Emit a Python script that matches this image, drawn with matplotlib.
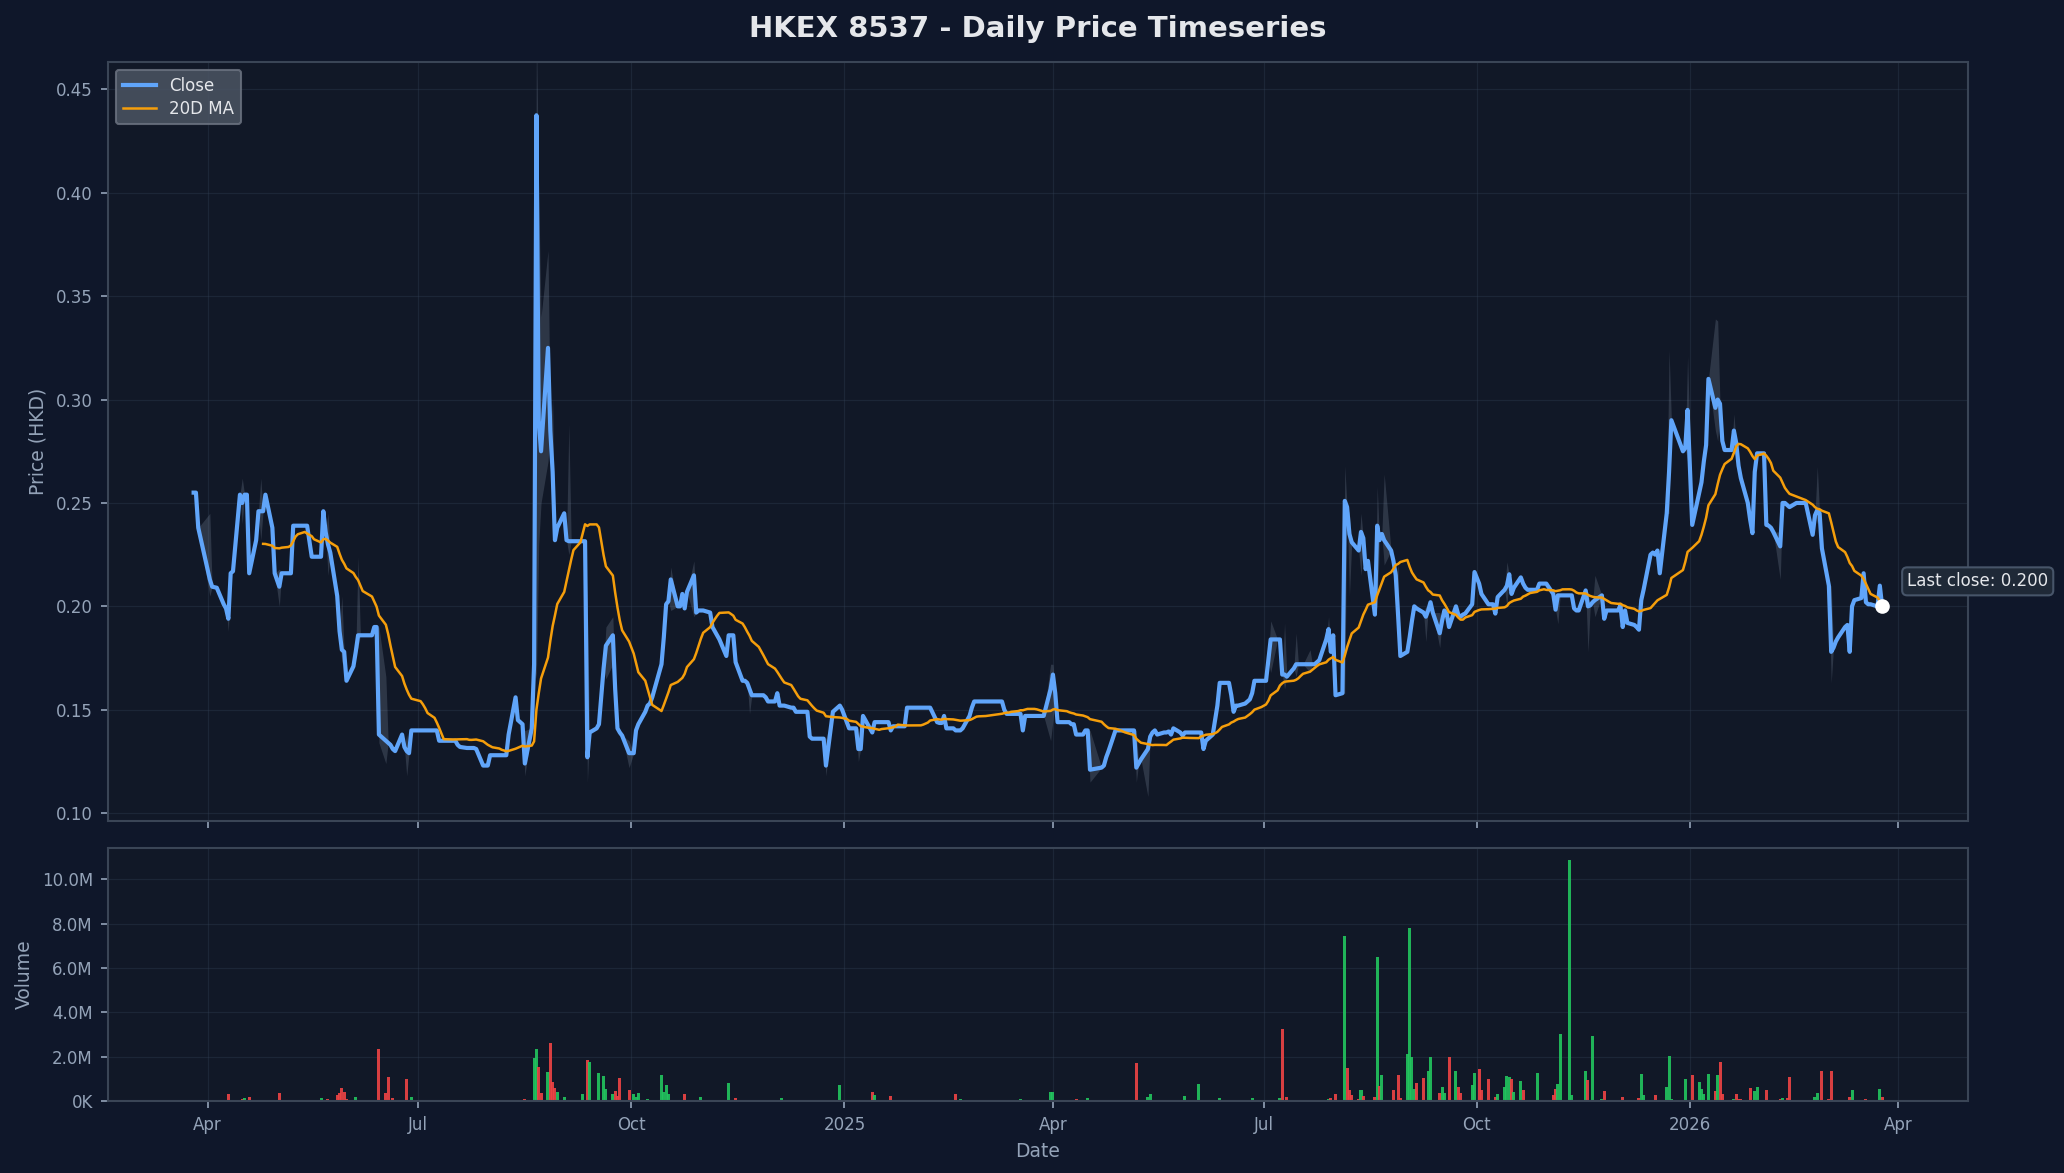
import numpy as np
import pandas as pd
import matplotlib
matplotlib.use("Agg")
import matplotlib.pyplot as plt
import matplotlib.dates as mdates
from matplotlib.ticker import FuncFormatter

# ---------------- data ----------------
TITLE = "HKEX 8537 - Daily Price Timeseries"
START, END = "2024-03-26", "2026-03-25"

HK_HOLIDAYS = [
    "2024-03-29", "2024-04-01", "2024-04-04", "2024-05-01", "2024-05-15",
    "2024-06-10", "2024-07-01", "2024-09-18", "2024-10-01", "2024-10-11",
    "2024-12-25", "2024-12-26",
    "2025-01-01", "2025-01-29", "2025-01-30", "2025-01-31", "2025-04-04",
    "2025-04-18", "2025-04-21", "2025-05-01", "2025-05-05", "2025-07-01",
    "2025-10-01", "2025-10-07", "2025-10-29", "2025-12-25", "2025-12-26",
    "2026-01-01", "2026-02-17", "2026-02-18", "2026-02-19",
]

# daily closes (HKD), one list per month of trading days
close_by_month = {
    "2024-03": [0.255, 0.255, 0.238],
    "2024-04": [0.213, 0.2095, 0.209, 0.201, 0.199, 0.194, 0.216, 0.217, 0.254, 0.250,
                0.254, 0.254, 0.216, 0.232, 0.246, 0.246, 0.246, 0.254, 0.238, 0.216],
    "2024-05": [0.2095, 0.216, 0.216, 0.216, 0.239, 0.239, 0.239, 0.239, 0.239, 0.224,
                0.224, 0.224, 0.246, 0.236, 0.230, 0.226, 0.205, 0.188, 0.179, 0.178, 0.164],
    "2024-06": [0.171, 0.178, 0.186, 0.186, 0.186, 0.186, 0.190, 0.190, 0.138, 0.135,
                0.134, 0.133, 0.131, 0.130, 0.138, 0.132, 0.130, 0.129, 0.140],
    "2024-07": [0.140, 0.140, 0.140, 0.140, 0.140, 0.140, 0.135, 0.135, 0.135, 0.135,
                0.135, 0.135, 0.133, 0.132, 0.1315, 0.1315, 0.1315, 0.1315, 0.131, 0.123,
                0.123, 0.123],
    "2024-08": [0.128, 0.128, 0.128, 0.128, 0.128, 0.128, 0.138, 0.156, 0.145, 0.144,
                0.143, 0.124, 0.141, 0.172, 0.4375, 0.290, 0.275, 0.325, 0.285, 0.265,
                0.232, 0.238],
    "2024-09": [0.245, 0.232, 0.2315, 0.2315, 0.2315, 0.2315, 0.2315, 0.2315, 0.127, 0.139,
                0.141, 0.143, 0.170, 0.181, 0.186, 0.160, 0.141, 0.139, 0.1375, 0.129],
    "2024-10": [0.129, 0.140, 0.143, 0.149, 0.152, 0.153, 0.156, 0.172, 0.185, 0.201,
                0.2025, 0.213, 0.200, 0.200, 0.206, 0.199, 0.207, 0.215, 0.197, 0.198, 0.198],
    "2024-11": [0.198, 0.197, 0.190, 0.188, 0.186, 0.184, 0.176, 0.186, 0.186, 0.186,
                0.173, 0.164, 0.164, 0.163, 0.160, 0.157, 0.157, 0.157, 0.157, 0.156, 0.154],
    "2024-12": [0.154, 0.158, 0.152, 0.152, 0.152, 0.151, 0.151, 0.149, 0.149, 0.149,
                0.149, 0.137, 0.136, 0.136, 0.136, 0.136, 0.123, 0.149, 0.152, 0.150],
    "2025-01": [0.144, 0.141, 0.141, 0.131, 0.131, 0.147, 0.145, 0.139, 0.144, 0.144,
                0.144, 0.144, 0.144, 0.140, 0.142, 0.142, 0.142, 0.142, 0.151],
    "2025-02": [0.151, 0.151, 0.151, 0.151, 0.151, 0.144, 0.1436, 0.1436, 0.147, 0.141,
                0.141, 0.140, 0.140, 0.140, 0.141, 0.147, 0.151, 0.154, 0.154, 0.154],
    "2025-03": [0.154, 0.154, 0.154, 0.154, 0.154, 0.154, 0.150, 0.148, 0.148, 0.148,
                0.148, 0.148, 0.140, 0.147, 0.147, 0.147, 0.147, 0.147, 0.147, 0.147, 0.160],
    "2025-04": [0.167, 0.158, 0.144, 0.144, 0.144, 0.143, 0.143, 0.138, 0.138, 0.140,
                0.140, 0.121, 0.122, 0.123, 0.127, 0.130, 0.140, 0.140, 0.140],
    "2025-05": [0.140, 0.140, 0.122, 0.124, 0.126, 0.131, 0.137, 0.139, 0.140, 0.138,
                0.139, 0.139, 0.1395, 0.138, 0.141, 0.139, 0.1375, 0.139, 0.139, 0.139],
    "2025-06": [0.139, 0.139, 0.139, 0.131, 0.135, 0.138, 0.145, 0.152, 0.163, 0.163,
                0.163, 0.157, 0.149, 0.152, 0.152, 0.153, 0.154, 0.155, 0.158, 0.164, 0.164],
    "2025-07": [0.164, 0.174, 0.184, 0.184, 0.184, 0.167, 0.167, 0.166, 0.170, 0.172,
                0.172, 0.172, 0.172, 0.172, 0.172, 0.172, 0.173, 0.174, 0.184, 0.189,
                0.178, 0.186],
    "2025-08": [0.157, 0.158, 0.251, 0.248, 0.235, 0.231, 0.227, 0.236, 0.233, 0.218,
                0.222, 0.196, 0.239, 0.232, 0.235, 0.232, 0.227, 0.222, 0.215, 0.196, 0.176],
    "2025-09": [0.178, 0.185, 0.193, 0.200, 0.199, 0.197, 0.195, 0.198, 0.202, 0.197,
                0.187, 0.193, 0.198, 0.1965, 0.190, 0.200, 0.196, 0.195, 0.196, 0.1965,
                0.201, 0.2166],
    "2025-10": [0.211, 0.206, 0.201, 0.201, 0.1965, 0.2045, 0.208, 0.210, 0.2155, 0.206,
                0.209, 0.214, 0.211, 0.209, 0.208, 0.208, 0.208, 0.211, 0.211, 0.211],
    "2025-11": [0.206, 0.1984, 0.2053, 0.2053, 0.2053, 0.2053, 0.2053, 0.199, 0.198, 0.198,
                0.2077, 0.200, 0.2005, 0.202, 0.203, 0.2053, 0.194, 0.198, 0.198, 0.198],
    "2025-12": [0.198, 0.2005, 0.190, 0.198, 0.192, 0.191, 0.190, 0.1887, 0.203, 0.208,
                0.225, 0.226, 0.225, 0.227, 0.216, 0.245, 0.265, 0.290, 0.275, 0.2765, 0.295],
    "2026-01": [0.2394, 0.255, 0.260, 0.270, 0.278, 0.310, 0.296, 0.300, 0.298, 0.280,
                0.2756, 0.2756, 0.285, 0.279, 0.268, 0.262, 0.250, 0.242, 0.2354, 0.265, 0.274],
    "2026-02": [0.274, 0.2394, 0.239, 0.238, 0.236, 0.229, 0.250, 0.250, 0.249, 0.248,
                0.250, 0.250, 0.2346, 0.244, 0.2466, 0.245, 0.228],
    "2026-03": [0.210, 0.178, 0.180, 0.183, 0.185, 0.190, 0.191, 0.178, 0.200, 0.203,
                0.204, 0.216, 0.202, 0.201, 0.201, 0.200, 0.210, 0.200],
}

# intraday (low, high) on days where the range is visible
lo_hi = {
    "2024-04-02": (0.205, 0.245), "2024-04-10": (0.188, 0.199), "2024-04-16": (0.240, 0.262),
    "2024-04-24": (0.232, 0.262), "2024-05-02": (0.200, 0.218), "2024-05-23": (0.215, 0.245),
    "2024-05-29": (0.172, 0.205), "2024-06-05": (0.180, 0.224), "2024-06-14": (0.134, 0.190),
    "2024-06-17": (0.124, 0.166), "2024-06-26": (0.118, 0.138), "2024-08-16": (0.118, 0.140),
    "2024-08-21": (0.165, 0.480), "2024-08-22": (0.230, 0.400), "2024-08-23": (0.250, 0.340),
    "2024-08-26": (0.270, 0.372), "2024-08-28": (0.240, 0.300), "2024-09-04": (0.225, 0.288),
    "2024-09-12": (0.115, 0.200), "2024-09-20": (0.165, 0.190), "2024-09-23": (0.172, 0.195),
    "2024-09-30": (0.122, 0.135), "2024-10-18": (0.198, 0.219), "2024-10-28": (0.195, 0.222),
    "2024-11-21": (0.148, 0.163), "2024-12-24": (0.118, 0.136), "2025-01-07": (0.125, 0.141),
    "2025-03-31": (0.135, 0.172), "2025-04-01": (0.145, 0.172), "2025-04-17": (0.115, 0.140),
    "2025-05-07": (0.115, 0.140), "2025-05-12": (0.108, 0.133), "2025-07-04": (0.168, 0.193),
    "2025-07-10": (0.160, 0.192), "2025-07-15": (0.166, 0.187), "2025-07-21": (0.168, 0.179),
    "2025-07-29": (0.180, 0.195), "2025-08-05": (0.158, 0.268), "2025-08-07": (0.205, 0.245),
    "2025-08-12": (0.215, 0.245), "2025-08-19": (0.200, 0.258), "2025-08-22": (0.220, 0.264),
    "2025-08-28": (0.175, 0.220), "2025-09-09": (0.183, 0.200), "2025-09-15": (0.180, 0.197),
    "2025-10-14": (0.200, 0.2215), "2025-11-05": (0.1916, 0.206), "2025-11-18": (0.178, 0.207),
    "2025-11-21": (0.195, 0.215), "2025-12-23": (0.245, 0.324), "2025-12-31": (0.270, 0.321),
    "2026-01-12": (0.285, 0.339), "2026-01-13": (0.280, 0.338), "2026-01-20": (0.275, 0.293),
    "2026-02-09": (0.213, 0.236), "2026-02-25": (0.240, 0.2676), "2026-03-03": (0.163, 0.210),
}

# traded volume, millions of shares
vol_m = {
    "2024-04-10": 0.32, "2024-04-16": 0.10, "2024-04-17": 0.15, "2024-04-19": 0.20,
    "2024-04-24": 0.05, "2024-04-26": 0.05, "2024-05-02": 0.35, "2024-05-20": 0.12,
    "2024-05-23": 0.10, "2024-05-27": 0.27, "2024-05-28": 0.35, "2024-05-29": 0.57,
    "2024-05-30": 0.42, "2024-05-31": 0.10, "2024-06-04": 0.17, "2024-06-14": 2.33,
    "2024-06-17": 0.35, "2024-06-18": 1.10, "2024-06-20": 0.15, "2024-06-26": 0.98,
    "2024-06-28": 0.20, "2024-07-29": 0.05, "2024-08-06": 0.05, "2024-08-07": 0.05,
    "2024-08-16": 0.10, "2024-08-20": 1.95, "2024-08-21": 2.33, "2024-08-22": 1.52,
    "2024-08-23": 0.35, "2024-08-26": 1.30, "2024-08-27": 2.63, "2024-08-28": 0.87,
    "2024-08-29": 0.57, "2024-08-30": 0.40, "2024-09-02": 0.20, "2024-09-10": 0.32,
    "2024-09-12": 1.85, "2024-09-13": 1.76, "2024-09-17": 1.28, "2024-09-19": 1.13,
    "2024-09-20": 0.53, "2024-09-23": 0.32, "2024-09-24": 0.47, "2024-09-25": 0.24,
    "2024-09-26": 1.05, "2024-09-30": 0.50, "2024-10-02": 0.32, "2024-10-03": 0.17,
    "2024-10-04": 0.37, "2024-10-08": 0.08, "2024-10-14": 1.17, "2024-10-15": 0.42,
    "2024-10-16": 0.72, "2024-10-17": 0.32, "2024-10-24": 0.32, "2024-10-30": 0.05,
    "2024-10-31": 0.20, "2024-11-12": 0.80, "2024-11-15": 0.15, "2024-11-26": 0.05,
    "2024-12-05": 0.13, "2024-12-30": 0.72,
    "2025-01-13": 0.40, "2025-01-14": 0.27, "2025-01-21": 0.22, "2025-02-10": 0.05,
    "2025-02-14": 0.05, "2025-02-18": 0.32, "2025-02-20": 0.10, "2025-02-21": 0.05,
    "2025-03-18": 0.08, "2025-03-31": 0.40, "2025-04-01": 0.40, "2025-04-11": 0.08,
    "2025-04-16": 0.15, "2025-04-28": 0.05, "2025-05-07": 1.69, "2025-05-12": 0.18,
    "2025-05-13": 0.33, "2025-05-14": 0.05, "2025-05-26": 0.05, "2025-05-28": 0.22,
    "2025-06-03": 0.75, "2025-06-11": 0.05, "2025-06-12": 0.13, "2025-06-17": 0.05,
    "2025-06-26": 0.13, "2025-07-03": 0.05, "2025-07-08": 0.12, "2025-07-09": 3.25,
    "2025-07-11": 0.18, "2025-07-15": 0.05, "2025-07-16": 0.05, "2025-07-29": 0.07,
    "2025-07-30": 0.12, "2025-08-01": 0.30, "2025-08-05": 7.42, "2025-08-06": 1.50,
    "2025-08-07": 0.50, "2025-08-08": 0.27, "2025-08-11": 0.10, "2025-08-12": 0.48,
    "2025-08-13": 0.23, "2025-08-14": 0.05, "2025-08-18": 0.18, "2025-08-19": 6.50,
    "2025-08-20": 0.68, "2025-08-21": 1.18, "2025-08-26": 0.50, "2025-08-28": 1.18,
    "2025-08-29": 0.15, "2025-09-01": 2.10, "2025-09-02": 7.80, "2025-09-03": 2.00,
    "2025-09-04": 0.53, "2025-09-05": 0.83, "2025-09-08": 1.05, "2025-09-10": 1.35,
    "2025-09-11": 2.00, "2025-09-15": 0.38, "2025-09-16": 0.63, "2025-09-17": 0.38,
    "2025-09-19": 2.00, "2025-09-22": 1.33, "2025-09-23": 0.63, "2025-09-24": 0.38,
    "2025-09-29": 0.72, "2025-09-30": 1.28, "2025-10-02": 1.43, "2025-10-03": 0.48,
    "2025-10-06": 1.00, "2025-10-09": 0.18, "2025-10-10": 0.30, "2025-10-13": 0.63,
    "2025-10-14": 1.13, "2025-10-15": 1.08, "2025-10-16": 1.00, "2025-10-17": 0.40,
    "2025-10-20": 0.90, "2025-10-21": 0.48, "2025-10-23": 0.05, "2025-10-27": 1.28,
    "2025-11-03": 0.27, "2025-11-04": 0.53, "2025-11-05": 0.75, "2025-11-06": 3.00,
    "2025-11-10": 10.85, "2025-11-11": 0.27, "2025-11-12": 0.05, "2025-11-17": 1.33,
    "2025-11-18": 0.93, "2025-11-20": 2.94, "2025-11-24": 0.08, "2025-11-25": 0.45,
    "2025-12-03": 0.18, "2025-12-10": 0.15, "2025-12-11": 1.20, "2025-12-12": 0.27,
    "2025-12-15": 0.05, "2025-12-17": 0.27, "2025-12-22": 0.63, "2025-12-23": 2.02,
    "2025-12-24": 0.08, "2025-12-29": 0.05, "2025-12-30": 0.98,
    "2026-01-02": 1.18, "2026-01-05": 0.86, "2026-01-06": 0.53, "2026-01-07": 0.33,
    "2026-01-09": 1.20, "2026-01-12": 0.45, "2026-01-13": 1.18, "2026-01-14": 1.78,
    "2026-01-15": 0.30, "2026-01-16": 0.05, "2026-01-20": 0.08, "2026-01-21": 0.33,
    "2026-01-22": 0.10, "2026-01-23": 0.10, "2026-01-27": 0.60, "2026-01-29": 0.45,
    "2026-01-30": 0.63, "2026-02-03": 0.48, "2026-02-09": 0.08, "2026-02-10": 0.15,
    "2026-02-12": 0.15, "2026-02-13": 1.08, "2026-02-16": 0.05, "2026-02-24": 0.18,
    "2026-02-25": 0.37, "2026-02-27": 1.33, "2026-03-02": 0.08, "2026-03-03": 1.33,
    "2026-03-05": 0.05, "2026-03-11": 0.18, "2026-03-12": 0.48, "2026-03-17": 0.05,
    "2026-03-18": 0.10, "2026-03-24": 0.53, "2026-03-25": 0.18,
}

# ---------------- build series ----------------
hol = pd.to_datetime(HK_HOLIDAYS)
dates, closes = [], []
for ym, vals in close_by_month.items():
    p = pd.Period(ym, "M")
    s = max(p.start_time, pd.Timestamp(START))
    e = min(p.end_time.normalize(), pd.Timestamp(END))
    bd = pd.bdate_range(s, e)
    bd = bd[~bd.isin(hol)]
    n = min(len(bd), len(vals))
    dates.extend(bd[:n])
    closes.extend(vals[:n])

idx = pd.DatetimeIndex(dates)
close = pd.Series(closes, index=idx)
ma20 = close.rolling(20).mean()

low = close.copy()
high = close.copy()
for d, (lo, hi) in lo_hi.items():
    t = pd.Timestamp(d)
    if t in low.index:
        low[t] = min(lo, close[t])
        high[t] = max(hi, close[t])

volume = pd.Series(vol_m).rename(index=pd.Timestamp).reindex(idx, fill_value=0.0) * 1e6
up = close.diff().fillna(0) >= 0

# ---------------- style ----------------
BG = "#0f172a"
AX_BG = "#111827"
GRID = "#334155"
SPINE = "#3a4556"
TXT = "#94a3b8"
BLUE = "#60a5fa"
ORANGE = "#f59e0b"
GREEN = "#22c55e"
RED = "#ef4444"

fig = plt.figure(figsize=(13.76, 7.82), dpi=150, facecolor=BG)
ax = fig.add_axes([0.0521, 0.3001, 0.9015, 0.6473])
axv = fig.add_axes([0.0521, 0.0614, 0.9015, 0.2154], sharex=ax)

for a in (ax, axv):
    a.set_facecolor(AX_BG)
    for sp in a.spines.values():
        sp.set_color(SPINE)
        sp.set_linewidth(1.0)
    a.tick_params(colors=TXT, labelsize=8)
    a.grid(True, color=GRID, alpha=0.35, linewidth=0.6)
    a.set_axisbelow(True)

# price panel
ax.fill_between(idx, low.values, high.values, color="#94a3b8", alpha=0.22, linewidth=0)
ax.plot(idx, close.values, color=BLUE, linewidth=2.0, label="Close", zorder=3)
ax.plot(idx, ma20.values, color=ORANGE, linewidth=1.2, label="20D MA", zorder=4)
ax.plot(idx[-1:], close.values[-1:], "o", color="white", markersize=6, zorder=6)
ax.annotate(f"Last close: {close.values[-1]:.3f}", xy=(idx[-1], close.values[-1]),
            xytext=(12, 12), textcoords="offset points", ha="left", va="center",
            fontsize=8, color="#e5e7eb", annotation_clip=False,
            bbox=dict(boxstyle="round,pad=0.3", fc="#1f2937", ec="#475569", lw=1))
ax.set_ylim(0.0962, 0.4634)
ax.set_ylabel("Price (HKD)", color=TXT, fontsize=9)
ax.tick_params(axis="x", labelbottom=False)
leg = ax.legend(loc="upper left", fontsize=8, facecolor="#4b5563", edgecolor="#6b7280",
                framealpha=0.85, labelcolor="#e5e7eb", labelspacing=0.3)

# volume panel
colors = np.where(up.values, GREEN, RED)
axv.bar(idx, volume.values, width=1.3, color=colors, alpha=0.9, linewidth=0)
axv.set_ylim(0, volume.max() * 1.05)
axv.yaxis.set_major_formatter(FuncFormatter(
    lambda v, _: f"{v/1e6:.1f}M" if v >= 1e6 else f"{v/1e3:.0f}K"))
axv.set_ylabel("Volume", color=TXT, fontsize=9)
axv.set_xlabel("Date", color=TXT, fontsize=9)

loc = mdates.AutoDateLocator()
axv.xaxis.set_major_locator(loc)
axv.xaxis.set_major_formatter(mdates.ConciseDateFormatter(loc))

fig.text(0.0521 + 0.9015 / 2, 0.9755, TITLE, ha="center", va="center",
         fontsize=14, fontweight="bold", color="#e5e7eb")

fig.savefig("out.png", dpi=150, facecolor=BG)
